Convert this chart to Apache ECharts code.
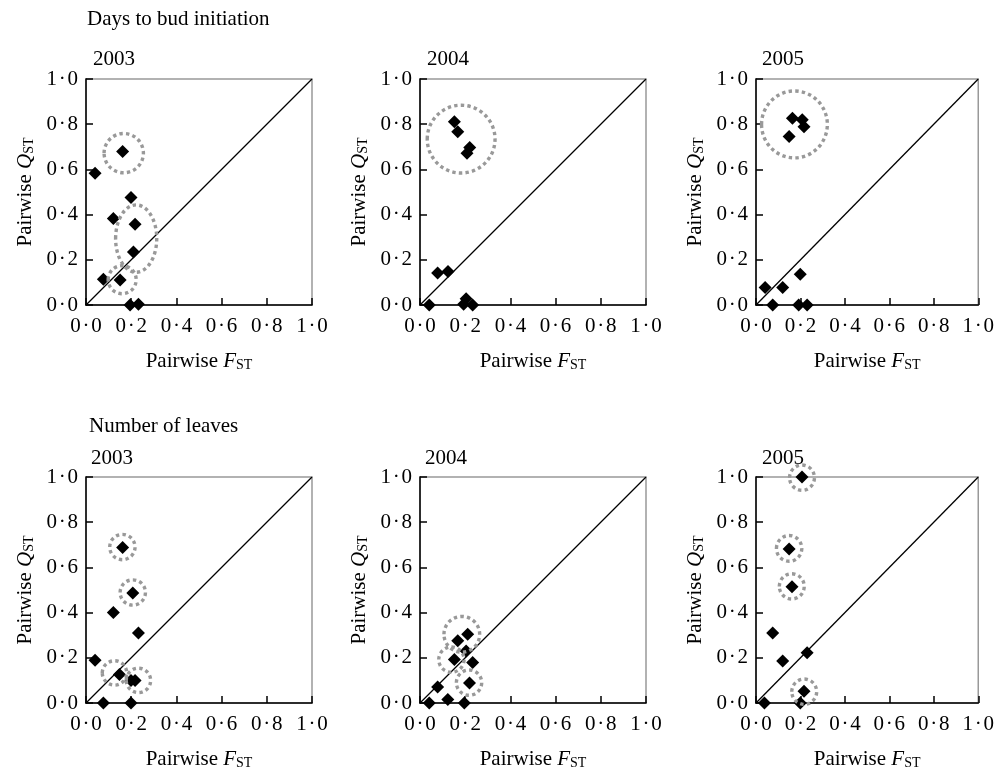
<!DOCTYPE html>
<html><head><meta charset="utf-8">
<script src="https://cdn.jsdelivr.net/npm/echarts@6/dist/echarts.min.js"></script>
<style>html,body{margin:0;padding:0;background:#fff}#c{width:997px;height:772px}</style>
</head><body><div id="c"></div>
<script>
// ---- data ----
const tickValues = [0, 0.2, 0.4, 0.6, 0.8, 1.0];
const sectionTitles = ['Days to bud initiation', 'Number of leaves'];
const years = ['2003', '2004', '2005'];

// [pairwise Fst, pairwise Qst]
const bud2003 = [[0.162,0.679],[0.040,0.583],[0.199,0.476],[0.121,0.383],[0.217,0.357],[0.210,0.235],[0.077,0.114],[0.151,0.111],[0.195,0],[0.232,0.003]];
const bud2004 = [[0.152,0.811],[0.167,0.767],[0.220,0.697],[0.208,0.672],[0.078,0.142],[0.124,0.148],[0.041,0],[0.204,0.028],[0.193,0.003],[0.233,0]];
const bud2005 = [[0.164,0.826],[0.208,0.820],[0.216,0.789],[0.149,0.746],[0.041,0.077],[0.120,0.077],[0.199,0.136],[0.075,0],[0.192,0],[0.230,0]];
const leaf2003 = [[0.162,0.688],[0.207,0.487],[0.121,0.400],[0.232,0.310],[0.040,0.189],[0.148,0.126],[0.199,0.100],[0.217,0.100],[0.077,0],[0.199,0]];
const leaf2004 = [[0.211,0.304],[0.167,0.275],[0.204,0.230],[0.152,0.193],[0.233,0.179],[0.219,0.089],[0.078,0.071],[0.041,0],[0.123,0.015],[0.196,0]];
const leaf2005 = [[0.207,1.0],[0.149,0.681],[0.162,0.514],[0.075,0.310],[0.120,0.186],[0.230,0.222],[0.216,0.052],[0.038,0],[0.199,0]];

// highlighted groups: [centre Fst, centre Qst, radius Fst, radius Qst]
const bud2003Circles = [[0.167,0.672,0.087,0.087],[0.222,0.294,0.091,0.149],[0.160,0.112,0.062,0.062]];
const bud2004Circles = [[0.182,0.734,0.150,0.150]];
const bud2005Circles = [[0.173,0.799,0.148,0.148]];
const leaf2003Circles = [[0.161,0.690,0.056,0.056],[0.207,0.489,0.056,0.056],[0.126,0.133,0.054,0.054],[0.232,0.100,0.054,0.054]];
const leaf2004Circles = [[0.185,0.304,0.079,0.079],[0.139,0.192,0.056,0.056],[0.217,0.090,0.056,0.056]];
const leaf2005Circles = [[0.207,0.997,0.056,0.056],[0.149,0.684,0.057,0.057],[0.161,0.516,0.056,0.056],[0.217,0.050,0.056,0.056]];

const diagonal = [[0,0],[1,1]];

// ---- layout ----
const F = 'Liberation Serif';
const panels = [
  {pts: bud2003,  circ: bud2003Circles,  left: 86,  top: 79},
  {pts: bud2004,  circ: bud2004Circles,  left: 420, top: 79},
  {pts: bud2005,  circ: bud2005Circles,  left: 756, top: 79},
  {pts: leaf2003, circ: leaf2003Circles, left: 86,  top: 477},
  {pts: leaf2004, circ: leaf2004Circles, left: 420, top: 477},
  {pts: leaf2005, circ: leaf2005Circles, left: 756, top: 477}
];
const SIZE = 226;

const rich = {
  a: {fontFamily: F, fontSize: 21, color: '#000', lineHeight: 24, verticalAlign: 'bottom'},
  i: {fontFamily: F, fontSize: 21, fontStyle: 'italic', color: '#000', lineHeight: 24, verticalAlign: 'bottom'},
  s: {fontFamily: F, fontSize: 14, color: '#000', lineHeight: 10, verticalAlign: 'bottom'}
};
const fmt = v => {
  const idx = tickValues.findIndex(t => Math.abs(t - v) < 1e-9);
  const t = idx >= 0 ? tickValues[idx] : v;
  return t.toFixed(1).replace('.', '\u200A\u00B7\u200A');
};

function axisBase(gi, labelMargin) {
  return {
    gridIndex: gi, type: 'value', min: 0, max: 1, interval: 0.2,
    axisLine: {show: true, onZero: false, lineStyle: {color: '#000', width: 1.5}},
    axisTick: {show: true, inside: true, length: 7, lineStyle: {color: '#000', width: 1.5}},
    axisLabel: {formatter: fmt, fontFamily: F, fontSize: 21, color: '#000', margin: labelMargin, showMaxLabel: true, showMinLabel: true},
    splitLine: {show: false},
    nameLocation: 'middle',
    nameTextStyle: {rich: rich}
  };
}

function renderEllipse(params, api) {
  const c = api.coord([api.value(0), api.value(1)]);
  const s = api.size([api.value(2), api.value(3)]);
  return {
    type: 'ellipse',
    shape: {cx: c[0], cy: c[1], rx: s[0], ry: s[1]},
    style: {fill: 'none', stroke: '#999', lineWidth: 3.4, lineDash: [3.4, 3.2]}
  };
}

const grids = [], xAxes = [], yAxes = [], series = [];
panels.forEach((p, gi) => {
  grids.push({left: p.left, top: p.top, width: SIZE, height: SIZE, show: true, borderColor: '#999', borderWidth: 1.5, backgroundColor: 'transparent'});
  xAxes.push(Object.assign(axisBase(gi, 11), {name: '{a|Pairwise }{i|F}{s|ST}', nameGap: 43}));
  yAxes.push(Object.assign(axisBase(gi, 8), {name: '{a|Pairwise }{i|Q}{s|ST}', nameGap: 50, nameRotate: 90}));
  series.push({type: 'line', xAxisIndex: gi, yAxisIndex: gi, data: diagonal, symbol: 'none', silent: true,
    lineStyle: {color: '#000', width: 1.3}, z: 2});
  series.push({type: 'scatter', xAxisIndex: gi, yAxisIndex: gi, data: p.pts, symbol: 'diamond', symbolSize: 13,
    itemStyle: {color: '#000', opacity: 1}, clip: false, z: 3});
  series.push({type: 'custom', xAxisIndex: gi, yAxisIndex: gi, data: p.circ, renderItem: renderEllipse,
    encode: {x: 0, y: 1}, clip: false, silent: true, z: 4});
});

const titleStyle = {fontFamily: F, fontSize: 21, fontWeight: 'normal', color: '#000'};
const titles = [
  {text: sectionTitles[0], left: 87, top: 9, padding: 0, textStyle: titleStyle},
  {text: sectionTitles[1], left: 89, top: 416, padding: 0, textStyle: titleStyle},
  {text: years[0], left: 93, top: 49, padding: 0, textStyle: titleStyle},
  {text: years[1], left: 427, top: 49, padding: 0, textStyle: titleStyle},
  {text: years[2], left: 762, top: 49, padding: 0, textStyle: titleStyle},
  {text: years[0], left: 91, top: 448, padding: 0, textStyle: titleStyle},
  {text: years[1], left: 425, top: 448, padding: 0, textStyle: titleStyle},
  {text: years[2], left: 762, top: 448, padding: 0, textStyle: titleStyle}
];

const chart = echarts.init(document.getElementById('c'), null, {renderer: 'canvas'});
chart.setOption({
  backgroundColor: '#fff',
  animation: false,
  title: titles,
  grid: grids,
  xAxis: xAxes,
  yAxis: yAxes,
  series: series
});
</script>
</body></html>
